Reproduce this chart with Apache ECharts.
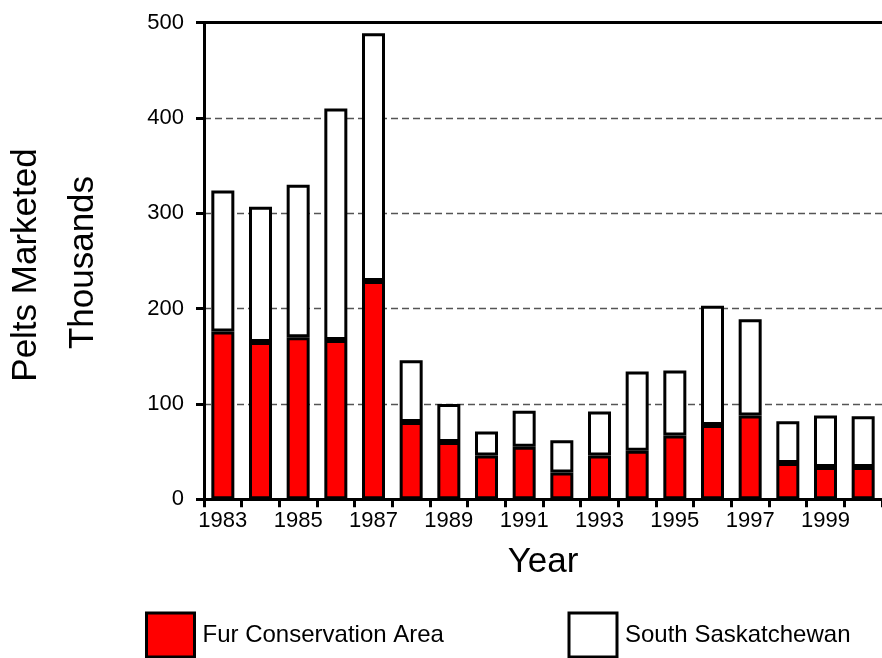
<!DOCTYPE html>
<html>
<head>
<meta charset="utf-8">
<script src="https://cdn.jsdelivr.net/npm/echarts@6/dist/echarts.min.js"></script>
<style>
html,body{margin:0;padding:0;background:#fff;}
#chart{width:882px;height:658px;}
</style>
</head>
<body>
<div id="chart"></div>
<script>
const years = ['1983','1984','1985','1986','1987','1988','1989','1990','1991','1992','1993','1994','1995','1996','1997','1998','1999','2000'];
const furConservation = [176,165,170,167,229,81,60,46,55,28,46,51,67,78,88,38,34,34];
const southSaskatchewan = [148,142,160,243,260,65,40,25,38,34,46,83,68,125,101,44,54,53];
const yTicks = [0,100,200,300,400,500];
const seriesNames = ['Fur Conservation Area','South Saskatchewan'];

const FONT = 'Arial, "Liberation Sans", sans-serif';
const chart = echarts.init(document.getElementById('chart'), null, {renderer:'canvas'});

chart.setOption({
  animation:false,
  backgroundColor:'#ffffff',
  grid:{left:204, top:22.7, width:680, height:476.6, containLabel:false},
  xAxis:[{
    type:'category',
    data:years,
    position:'bottom',
    boundaryGap:true,
    axisLine:{show:true, lineStyle:{color:'#000', width:3}},
    axisTick:{show:true, interval:0, length:8, lineStyle:{color:'#000', width:3}},
    axisLabel:{interval:1, margin:11, color:'#000', fontFamily:FONT, fontSize:22},
    name:'Year', nameLocation:'middle', nameGap:46,
    nameTextStyle:{color:'#000', fontFamily:FONT, fontSize:35},
    splitLine:{show:false}
  },{
    type:'category',
    data:years,
    position:'top',
    axisLine:{show:true, lineStyle:{color:'#000', width:3}},
    axisTick:{show:false},
    axisLabel:{show:false},
    splitLine:{show:false}
  }],
  yAxis:{
    type:'value',
    min:yTicks[0], max:yTicks[yTicks.length-1], interval:100,
    axisLine:{show:true, lineStyle:{color:'#000', width:3}},
    axisTick:{show:true, length:8, lineStyle:{color:'#000', width:3}},
    axisLabel:{margin:20, color:'#000', fontFamily:FONT, fontSize:22},
    splitLine:{show:true, lineStyle:{color:'#555', width:1.3, type:[7,4]}}
  },
  legend:[{
    data:[seriesNames[0]],
    left:145, top:611.5, padding:0,
    itemWidth:48, itemHeight:44,
    icon:'rect',
    itemStyle:{borderColor:'#000', borderWidth:3},
    textStyle:{color:'#000', fontFamily:FONT, fontSize:24, padding:[0,0,0,3]}
  },{
    data:[seriesNames[1]],
    left:567.5, top:611.5, padding:0,
    itemWidth:48, itemHeight:44,
    icon:'rect',
    itemStyle:{borderColor:'#000', borderWidth:3},
    textStyle:{color:'#000', fontFamily:FONT, fontSize:24, padding:[0,0,0,3]}
  }],
  graphic:[{
    type:'text', x:26, y:265, rotation:Math.PI/2,
    style:{text:'Pelts Marketed', fill:'#000', font:'35px ' + FONT, textAlign:'center', textVerticalAlign:'middle'}
  },{
    type:'text', x:83, y:262.5, rotation:Math.PI/2,
    style:{text:'Thousands', fill:'#000', font:'35px ' + FONT, textAlign:'center', textVerticalAlign:'middle'}
  }],
  series:[{
    name:seriesNames[0], type:'bar', stack:'total', data:furConservation,
    barWidth:23,
    itemStyle:{color:'#ff0000', borderColor:'#000', borderWidth:3}
  },{
    name:seriesNames[1], type:'bar', stack:'total', data:southSaskatchewan,
    barWidth:23,
    itemStyle:{color:'#ffffff', borderColor:'#000', borderWidth:3}
  }]
});
</script>
</body>
</html>
